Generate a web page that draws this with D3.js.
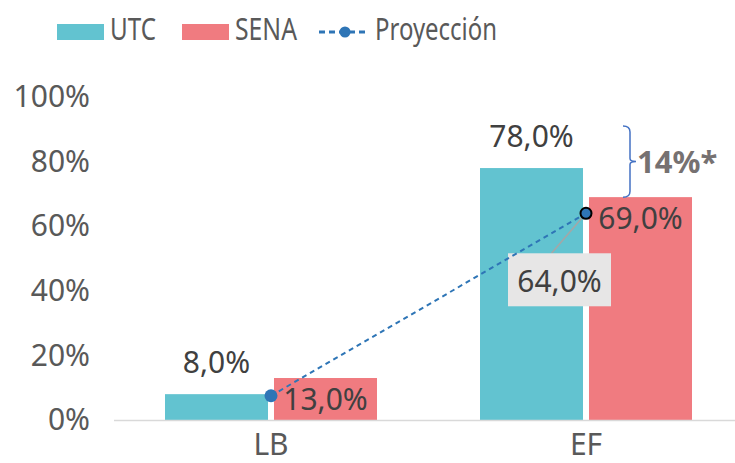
<!DOCTYPE html>
<html>
<head>
<meta charset="utf-8">
<script src="https://cdn.jsdelivr.net/npm/d3@7"></script>
<style>
  body { margin: 0; background: #fff; }
  svg text { font-family: "Noto Sans", sans-serif; fill: #595959; }
</style>
</head>
<body>
<div id="chart"></div>
<script>
// chart data
const categories = ['LB', 'EF'];
const seriesNames = ['UTC', 'SENA'];
const utcValues = [8, 78];
const senaValues = [13, 69];
const projection = [7.5, 64];
const projectionLabels = ['', '64,0%'];
const yTicks = [0, 20, 40, 60, 80, 100];
const gapNote = '14%*';
const bracketRange = [69, 91];

const colors = { UTC: '#62c3d0', SENA: '#f07b80', line: '#2e75b6' };
const labelColor = '#404040';
const fmt = v => v.toFixed(1).replace('.', ',') + '%';

const svg = d3.select('#chart')
    .append('svg')
    .attr('width', 735)
    .attr('height', 463);

const x = d3.scaleBand()
    .domain(categories)
    .range([113.5, 743.5]);

const xs = d3.scaleBand()
    .domain(seriesNames)
    .range([x.bandwidth() / 2 - 106, x.bandwidth() / 2 + 106])
    .paddingInner(0.055);

const y = d3.scaleLinear()
    .domain([0, 100])
    .range([420, 97]);

// y axis
const yAxis = svg.append('g')
    .attr('transform', 'translate(90,0)')
    .call(d3.axisLeft(y).tickValues(yTicks).tickSize(0).tickPadding(0).tickFormat(d => d + '%'));
yAxis.select('.domain').remove();
yAxis.selectAll('text').attr('font-size', 30).style('font-family', '"Noto Sans", sans-serif').attr('fill', '#595959');

// bars
const rows = categories.map((c, i) => ({ cat: c, UTC: utcValues[i], SENA: senaValues[i] }));

const groups = svg.selectAll('.cat')
    .data(rows)
    .enter()
    .append('g')
    .attr('class', 'cat')
    .attr('transform', d => `translate(${x(d.cat)},0)`);

groups.selectAll('rect')
    .data(d => seriesNames.map(s => ({ s, v: d[s] })))
    .enter()
    .append('rect')
    .attr('x', d => xs(d.s))
    .attr('width', xs.bandwidth())
    .attr('y', d => y(d.v))
    .attr('height', d => y(0) - y(d.v))
    .attr('fill', d => colors[d.s]);

// x axis
const xAxis = svg.append('g')
    .attr('transform', `translate(0,${y(0)})`)
    .call(d3.axisBottom(x).tickSize(0).tickPadding(14));
xAxis.select('.domain').attr('stroke', '#d9d9d9').attr('stroke-width', 1.5);
xAxis.selectAll('text').attr('font-size', 30).style('font-family', '"Noto Sans", sans-serif').attr('fill', '#595959');

// value labels: UTC outside end, SENA inside end
groups.append('text')
    .attr('x', xs('UTC') + xs.bandwidth() / 2)
    .attr('y', d => y(d.UTC) - 21)
    .attr('text-anchor', 'middle')
    .attr('font-size', 30)
    .style('fill', labelColor)
    .text(d => fmt(d.UTC));

groups.append('text')
    .attr('x', xs('SENA') + xs.bandwidth() / 2)
    .attr('y', d => y(d.SENA) + 32)
    .attr('text-anchor', 'middle')
    .attr('font-size', 30)
    .style('fill', labelColor)
    .text(d => fmt(d.SENA));

// projection line
const pts = categories.map((c, i) => ({ cat: c, v: projection[i], label: projectionLabels[i], i }));
const line = d3.line()
    .x(d => x(d.cat) + x.bandwidth() / 2)
    .y(d => y(d.v));

// label box + leader for EF projection
pts.filter(d => d.label).forEach(d => {
    const cx = x(d.cat) + x.bandwidth() / 2;
    const bx = cx - 78, by = y(d.v) + 40, bw = 103, bh = 53;
    svg.append('line')
        .attr('x1', cx).attr('y1', y(d.v))
        .attr('x2', bx + bw / 2 - 8).attr('y2', by)
        .attr('stroke', '#a6a6a6').attr('stroke-width', 1.5);
    svg.append('rect')
        .attr('x', bx).attr('y', by)
        .attr('width', bw).attr('height', bh)
        .attr('fill', '#e7e6e6');
    svg.append('text')
        .attr('x', bx + bw / 2)
        .attr('y', by + 39)
        .attr('text-anchor', 'middle')
        .attr('font-size', 30)
        .style('fill', labelColor)
        .text(d.label);
});

svg.append('path')
    .datum(pts)
    .attr('d', line)
    .attr('fill', 'none')
    .attr('stroke', colors.line)
    .attr('stroke-width', 2)
    .attr('stroke-dasharray', '5,4');

svg.selectAll('.pt')
    .data(pts)
    .enter()
    .append('circle')
    .attr('class', 'pt')
    .attr('cx', d => x(d.cat) + x.bandwidth() / 2)
    .attr('cy', d => y(d.v))
    .attr('r', d => d.i === 1 ? 5.5 : 6.5)
    .attr('fill', colors.line)
    .attr('stroke', d => d.i === 1 ? '#000' : 'none')
    .attr('stroke-width', 2);

// bracket with gap annotation
const bx0 = 623, bx1 = 630;
const bTop = y(bracketRange[1]), bBot = y(bracketRange[0]), bMid = (bTop + bBot) / 2;
svg.append('path')
    .attr('d', `M${bx0},${bTop} Q${bx1},${bTop} ${bx1},${bTop + 6} L${bx1},${bMid - 3} Q${bx1},${bMid} ${bx1 + 6},${bMid} Q${bx1},${bMid} ${bx1},${bMid + 3} L${bx1},${bBot - 6} Q${bx1},${bBot} ${bx0},${bBot}`)
    .attr('fill', 'none')
    .attr('stroke', '#4472c4')
    .attr('stroke-width', 1.5);
svg.append('text')
    .attr('x', 637)
    .attr('y', bMid + 11)
    .attr('font-size', 31)
    .attr('font-weight', 'bold')
    .style('fill', '#767171')
    .text(gapNote);

// legend (text is narrow in the original, squeeze it)
const legend = svg.append('g');
const legendItems = [
    { name: 'UTC', x: 57, type: 'rect', w: 46 },
    { name: 'SENA', x: 182, type: 'rect', w: 62 },
    { name: 'Proyección', x: 319, type: 'line', w: 122 }
];
legendItems.forEach(d => {
    let tx;
    if (d.type === 'rect') {
        legend.append('rect')
            .attr('x', d.x).attr('y', 24)
            .attr('width', 47).attr('height', 16)
            .attr('fill', colors[d.name]);
        tx = d.x + 53;
    } else {
        legend.append('line')
            .attr('x1', d.x).attr('x2', d.x + 50)
            .attr('y1', 32).attr('y2', 32)
            .attr('stroke', colors.line)
            .attr('stroke-width', 3)
            .attr('stroke-dasharray', '6,4');
        legend.append('circle')
            .attr('cx', d.x + 26).attr('cy', 32).attr('r', 5.5)
            .attr('fill', colors.line);
        tx = d.x + 56;
    }
    legend.append('text')
        .attr('x', tx).attr('y', 40)
        .attr('font-size', 31)
        .attr('textLength', d.w)
        .attr('lengthAdjust', 'spacingAndGlyphs')
        .text(d.name);
});
</script>
</body>
</html>
